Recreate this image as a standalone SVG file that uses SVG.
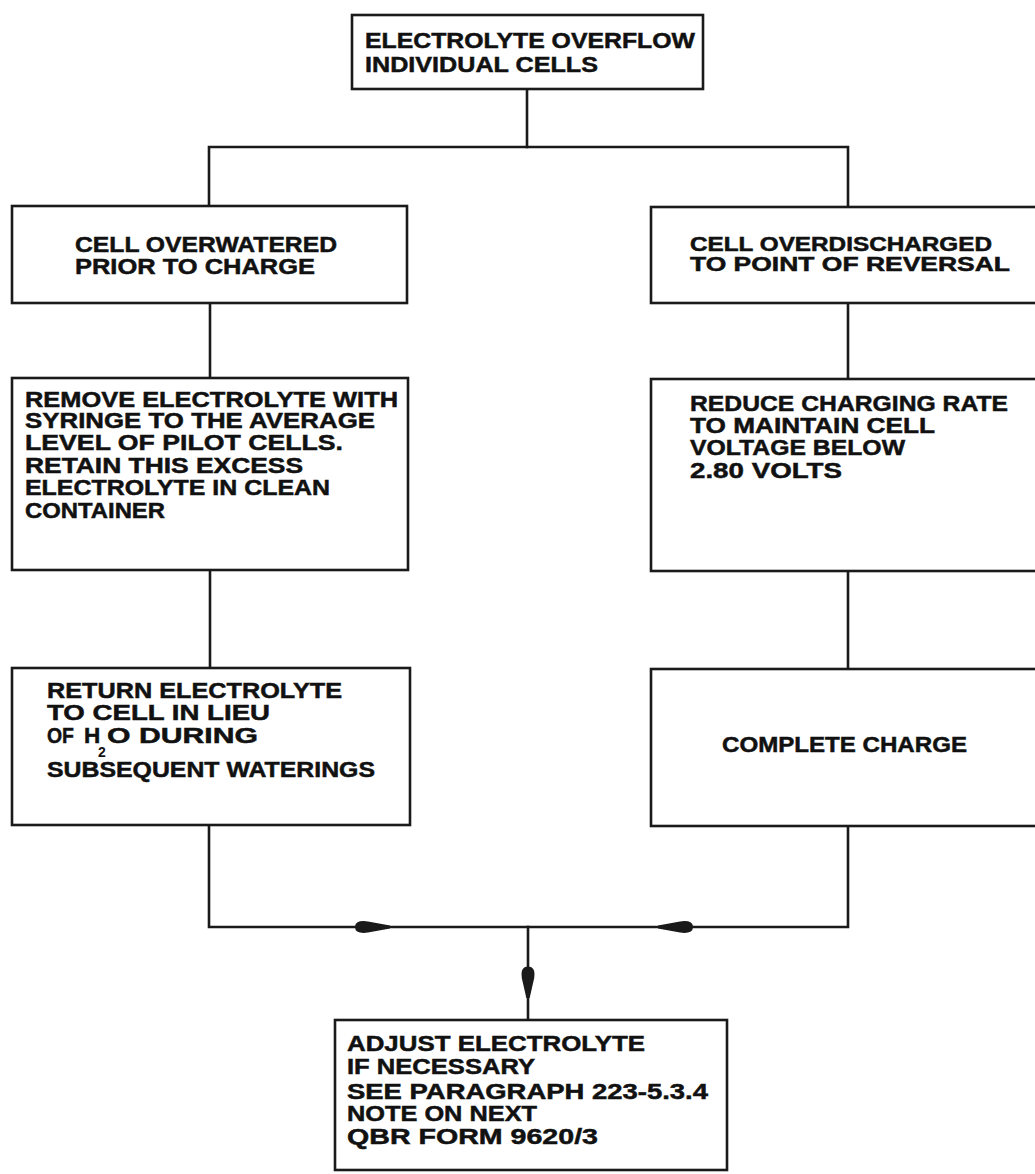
<svg xmlns="http://www.w3.org/2000/svg" width="1035" height="1174" viewBox="0 0 1035 1174">
  <defs>
    <style>
      .box { fill: #ffffff; stroke: #1a1a1a; stroke-width: 2.6; }
      .wire { fill: none; stroke: #1a1a1a; stroke-width: 2.6; stroke-linecap: square; }
      .lbl { font-family: "Liberation Sans", Arial, sans-serif; font-weight: bold; font-size: 22.5px; fill: #111111; stroke: #111111; stroke-width: 0.5; }
      .lbl-s { font-family: "Liberation Sans", Arial, sans-serif; font-weight: bold; font-size: 19.5px; fill: #111111; stroke: #111111; stroke-width: 0.5; }
      .sub { font-family: "Liberation Sans", Arial, sans-serif; font-weight: bold; font-size: 14px; fill: #111111; }
      .head { fill: #1a1a1a; }
    </style>
    <!-- teardrop arrowhead, tip at the origin, pointing +x -->
    <path id="arrowhead" class="head" d="M0,-1.5 L-22,-5.6 Q-35,-7.2 -35,0 Q-35,7.2 -22,5.6 L0,1.5 Z"/>
  </defs>

  <rect x="0" y="0" width="1035" height="1174" fill="#ffffff"/>

  <!-- connectors -->
  <g id="connectors">
    <polyline class="wire" points="527,89 527,147"/>
    <polyline class="wire" points="209,206 209,147 848,147 848,207"/>
    <polyline class="wire" points="210,303 210,378"/>
    <polyline class="wire" points="210,570 210,668"/>
    <polyline class="wire" points="848,303 848,379"/>
    <polyline class="wire" points="848,571 848,669"/>
    <polyline class="wire" points="209,825 209,927 848,927 848,826"/>
    <polyline class="wire" points="528,927 528,1020"/>
    <use href="#arrowhead" transform="translate(390,927)"/>
    <use href="#arrowhead" transform="translate(658,927) rotate(180)"/>
    <use href="#arrowhead" transform="translate(528,998) rotate(90) scale(0.9,1.1)"/>
  </g>

  <!-- top node -->
  <g id="overflow">
    <rect class="box" x="352" y="15" width="351" height="74"/>
    <text class="lbl" x="365" y="48" textLength="330" lengthAdjust="spacingAndGlyphs">ELECTROLYTE OVERFLOW</text>
    <text class="lbl" x="365" y="72" textLength="233" lengthAdjust="spacingAndGlyphs">INDIVIDUAL CELLS</text>
  </g>

  <!-- left branch -->
  <g id="overwatered">
    <rect class="box" x="12" y="206" width="395" height="97"/>
    <text class="lbl" x="75" y="252" textLength="262" lengthAdjust="spacingAndGlyphs">CELL OVERWATERED</text>
    <text class="lbl" x="75" y="274" textLength="240" lengthAdjust="spacingAndGlyphs">PRIOR TO CHARGE</text>
  </g>

  <g id="remove-electrolyte">
    <rect class="box" x="12" y="378" width="396" height="192"/>
    <text class="lbl" x="25" y="407" textLength="373" lengthAdjust="spacingAndGlyphs">REMOVE ELECTROLYTE WITH</text>
    <text class="lbl" x="25" y="428" textLength="350" lengthAdjust="spacingAndGlyphs">SYRINGE TO THE AVERAGE</text>
    <text class="lbl" x="25" y="450" textLength="318" lengthAdjust="spacingAndGlyphs">LEVEL OF PILOT CELLS.</text>
    <text class="lbl" x="25" y="473" textLength="278" lengthAdjust="spacingAndGlyphs">RETAIN THIS EXCESS</text>
    <text class="lbl" x="25" y="495" textLength="305" lengthAdjust="spacingAndGlyphs">ELECTROLYTE IN CLEAN</text>
    <text class="lbl" x="25" y="518" textLength="140" lengthAdjust="spacingAndGlyphs">CONTAINER</text>
  </g>

  <g id="return-electrolyte">
    <rect class="box" x="12" y="668" width="398" height="157"/>
    <text class="lbl" x="47" y="698" textLength="295" lengthAdjust="spacingAndGlyphs">RETURN ELECTROLYTE</text>
    <text class="lbl" x="47" y="720" textLength="223" lengthAdjust="spacingAndGlyphs">TO CELL IN LIEU</text>
    <!-- H2O written with a dropped subscript -->
    <text class="lbl" x="47" y="743" textLength="27" lengthAdjust="spacingAndGlyphs">OF</text>
    <text class="lbl" x="84" y="743">H</text>
    <text class="sub" x="98" y="757">2</text>
    <text class="lbl" x="107" y="743" textLength="151" lengthAdjust="spacingAndGlyphs">O DURING</text>
    <text class="lbl" x="47" y="777" textLength="328" lengthAdjust="spacingAndGlyphs">SUBSEQUENT WATERINGS</text>
  </g>

  <!-- right branch -->
  <g id="overdischarged">
    <rect class="box" x="651" y="207" width="394" height="96"/>
    <text class="lbl-s" x="690" y="251" textLength="302" lengthAdjust="spacingAndGlyphs">CELL OVERDISCHARGED</text>
    <text class="lbl-s" x="690" y="271" textLength="320" lengthAdjust="spacingAndGlyphs">TO POINT OF REVERSAL</text>
  </g>

  <g id="reduce-rate">
    <rect class="box" x="651" y="379" width="394" height="192"/>
    <text class="lbl" x="690" y="411" textLength="318" lengthAdjust="spacingAndGlyphs">REDUCE CHARGING RATE</text>
    <text class="lbl" x="690" y="433" textLength="245" lengthAdjust="spacingAndGlyphs">TO MAINTAIN CELL</text>
    <text class="lbl" x="690" y="455" textLength="215" lengthAdjust="spacingAndGlyphs">VOLTAGE BELOW</text>
    <text class="lbl" x="690" y="478" textLength="152" lengthAdjust="spacingAndGlyphs">2.80 VOLTS</text>
  </g>

  <g id="complete-charge">
    <rect class="box" x="651" y="669" width="394" height="157"/>
    <text class="lbl" x="722" y="752" textLength="245" lengthAdjust="spacingAndGlyphs">COMPLETE CHARGE</text>
  </g>

  <!-- merge node -->
  <g id="adjust-electrolyte">
    <rect class="box" x="335" y="1020" width="392" height="150"/>
    <text class="lbl" x="347" y="1051" textLength="298" lengthAdjust="spacingAndGlyphs">ADJUST ELECTROLYTE</text>
    <text class="lbl" x="347" y="1074" textLength="188" lengthAdjust="spacingAndGlyphs">IF NECESSARY</text>
    <text class="lbl" x="347" y="1099" textLength="361" lengthAdjust="spacingAndGlyphs">SEE PARAGRAPH 223-5.3.4</text>
    <text class="lbl" x="347" y="1121" textLength="190" lengthAdjust="spacingAndGlyphs">NOTE ON NEXT</text>
    <text class="lbl" x="347" y="1144" textLength="251" lengthAdjust="spacingAndGlyphs">QBR FORM 9620/3</text>
  </g>
</svg>
